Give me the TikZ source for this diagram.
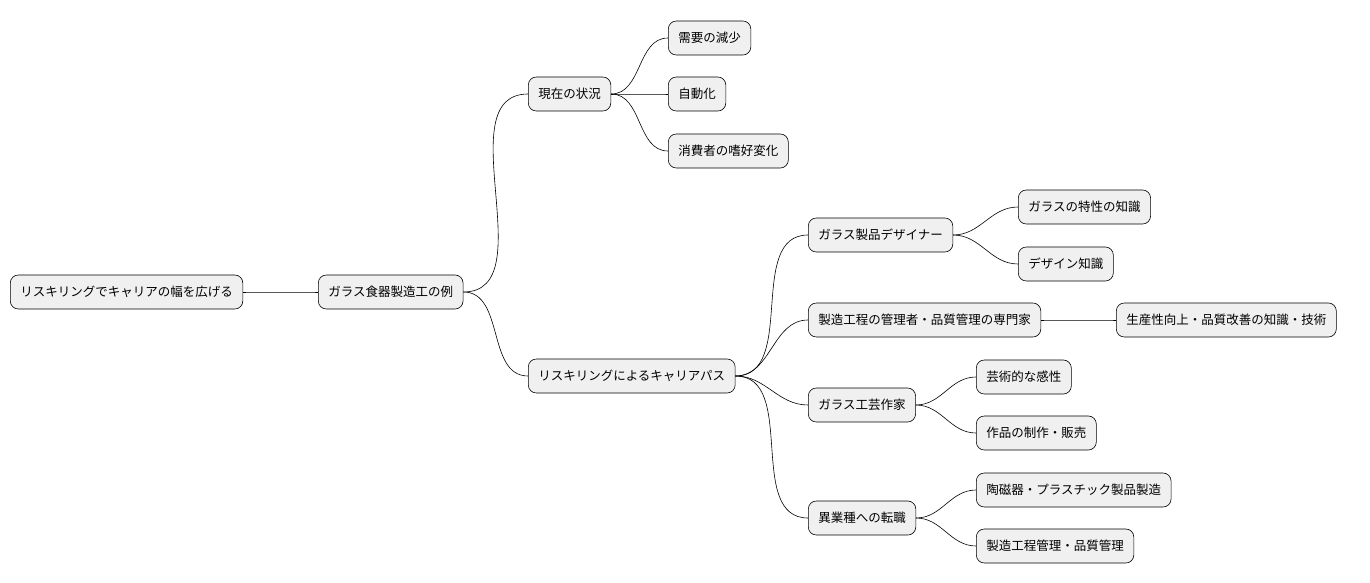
\documentclass[tikz,border=0pt]{standalone}
\usepackage{fontspec}
\setmainfont{Noto Sans CJK JP}
\usetikzlibrary{arrows}

\begin{document}
\begin{tikzpicture}[x=1pt,y=-1pt,semithick,
  idea/.style={draw,rounded corners=8pt,fill=black!6,minimum height=34pt,
    inner xsep=10pt,anchor=west,font=\fontsize{12.5pt}{14pt}\selectfont},
  link/.style={out=0,in=180}]
 \useasboundingbox (0,0) rectangle (1370,583);

 \node[idea] (root) at (10,292)   {リスキリングでキャリアの幅を広げる};
 \node[idea] (ex)   at (318,292)  {ガラス食器製造工の例};
 \node[idea] (now)  at (528,94)   {現在の状況};
 \node[idea] (n1)   at (668,38)   {需要の減少};
 \node[idea] (n2)   at (668,94)   {自動化};
 \node[idea] (n3)   at (668,151)  {消費者の嗜好変化};
 \node[idea] (path) at (528,376)  {リスキリングによるキャリアパス};
 \node[idea] (p1)   at (808,235)  {ガラス製品デザイナー};
 \node[idea] (p11)  at (1018,207) {ガラスの特性の知識};
 \node[idea] (p12)  at (1018,264) {デザイン知識};
 \node[idea] (p2)   at (808,320)  {製造工程の管理者・品質管理の専門家};
 \node[idea] (p21)  at (1116,320) {生産性向上・品質改善の知識・技術};
 \node[idea] (p3)   at (808,405)  {ガラス工芸作家};
 \node[idea] (p31)  at (976,377)  {芸術的な感性};
 \node[idea] (p32)  at (976,433)  {作品の制作・販売};
 \node[idea] (p4)   at (808,518)  {異業種への転職};
 \node[idea] (p41)  at (976,490)  {陶磁器・プラスチック製品製造};
 \node[idea] (p42)  at (976,546)  {製造工程管理・品質管理};

 \path (root.east) edge[link] (ex.west)
       (ex.east)   edge[link] (now.west)
                   edge[link] (path.west)
       (now.east)  edge[link] (n1.west)
                   edge[link] (n2.west)
                   edge[link] (n3.west)
       (path.east) edge[link] (p1.west)
                   edge[link] (p2.west)
                   edge[link] (p3.west)
                   edge[link] (p4.west)
       (p1.east)   edge[link] (p11.west)
                   edge[link] (p12.west)
       (p2.east)   edge[link] (p21.west)
       (p3.east)   edge[link] (p31.west)
                   edge[link] (p32.west)
       (p4.east)   edge[link] (p41.west)
                   edge[link] (p42.west);
\end{tikzpicture}
\end{document}
